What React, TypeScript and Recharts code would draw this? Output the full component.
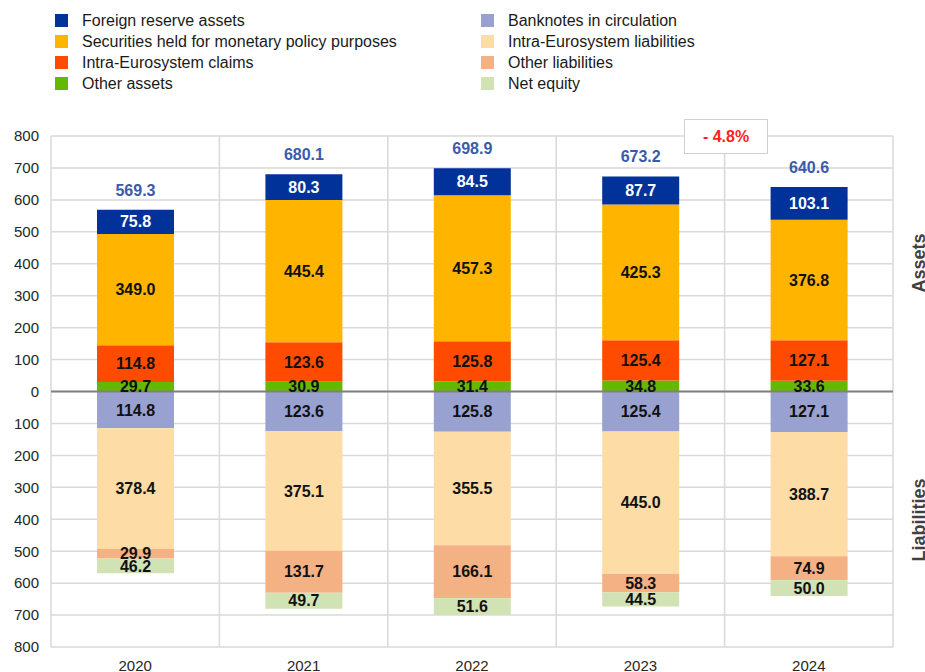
import { Bar, BarChart, CartesianGrid, LabelList, ReferenceLine, XAxis, YAxis } from "recharts";

const years = ["2020", "2021", "2022", "2023", "2024"];

// assets (stacked upwards)
const otherAssets = [29.7, 30.9, 31.4, 34.8, 33.6];
const intraClaims = [114.8, 123.6, 125.8, 125.4, 127.1];
const securities = [349.0, 445.4, 457.3, 425.3, 376.8];
const foreignReserves = [75.8, 80.3, 84.5, 87.7, 103.1];
const totals = [569.3, 680.1, 698.9, 673.2, 640.6];

// liabilities (stacked downwards)
const banknotes = [114.8, 123.6, 125.8, 125.4, 127.1];
const intraLiabilities = [378.4, 375.1, 355.5, 445.0, 388.7];
const otherLiabilities = [29.9, 131.7, 166.1, 58.3, 74.9];
const netEquity = [46.2, 49.7, 51.6, 44.5, 50.0];

const yTicks = [-800, -700, -600, -500, -400, -300, -200, -100, 0, 100, 200, 300, 400, 500, 600, 700, 800];

const changeLabel = "- 4.8%";

const data = years.map((year, i) => ({
  year,
  otherAssets: otherAssets[i],
  intraClaims: intraClaims[i],
  securities: securities[i],
  foreignReserves: foreignReserves[i],
  total: totals[i],
  banknotes: -banknotes[i],
  intraLiabilities: -intraLiabilities[i],
  otherLiabilities: -otherLiabilities[i],
  netEquity: -netEquity[i],
}));

const legendLeft = [
  { name: "Foreign reserve assets", color: "#003299" },
  { name: "Securities held for monetary policy purposes", color: "#ffb400" },
  { name: "Intra-Eurosystem claims", color: "#ff4b00" },
  { name: "Other assets", color: "#65b800" },
];
const legendRight = [
  { name: "Banknotes in circulation", color: "#98a1d0" },
  { name: "Intra-Eurosystem liabilities", color: "#fddca5" },
  { name: "Other liabilities", color: "#f4b183" },
  { name: "Net equity", color: "#d1e2b4" },
];

const font = "'Liberation Sans', Arial, sans-serif";

const fmt = (v: any) => Math.abs(Number(v)).toFixed(1);
const labelStyle = { fontSize: 16, fontWeight: 700, fontFamily: font };

function LegendColumn({ items, left }: { items: { name: string; color: string }[]; left: number }) {
  return (
    <div style={{ position: "absolute", left, top: 10 }}>
      {items.map((it) => (
        <div key={it.name} style={{ display: "flex", alignItems: "center", height: 21, whiteSpace: "nowrap" }}>
          <span style={{ width: 13, height: 13, background: it.color, display: "inline-block", marginRight: 14, flex: "none" }} />
          <span style={{ fontFamily: font, fontSize: 16, color: "#1a1a1a" }}>{it.name}</span>
        </div>
      ))}
    </div>
  );
}

export default function App() {
  return (
    <div style={{ position: "absolute", left: 0, top: 0, width: 925, height: 672, background: "#fff", overflow: "hidden" }}>
      <LegendColumn items={legendLeft} left={55} />
      <LegendColumn items={legendRight} left={481} />
      <BarChart
        width={925}
        height={672}
        data={data}
        stackOffset="sign"
        barSize={77}
        margin={{ top: 136, right: 32, bottom: 0, left: 0 }}
      >
        <CartesianGrid
          stroke="#d9d9d9"
          strokeWidth={1.5}
          verticalCoordinatesGenerator={({ offset }: any) =>
            [0, 1, 2, 3, 4, 5].map((i) => offset.left + (i * offset.width) / 5)
          }
        />
        <XAxis
          dataKey="year"
          axisLine={false}
          tickLine={false}
          height={25}
          tickMargin={7}
          tick={{ fontSize: 15, fill: "#262626", fontFamily: font }}
        />
        <YAxis
          domain={[-800, 800]}
          ticks={yTicks}
          width={51}
          axisLine={false}
          tickLine={false}
          tickMargin={6}
          tickFormatter={(v: number) => String(Math.abs(v))}
          tick={{ fontSize: 15, fill: "#262626", fontFamily: font }}
          interval={0}
        />
        <Bar dataKey="otherAssets" stackId="a" fill="#65b800" isAnimationActive={false}>
          <LabelList dataKey="otherAssets" position="center" formatter={fmt} fill="#111" style={labelStyle} />
        </Bar>
        <Bar dataKey="intraClaims" stackId="a" fill="#ff4b00" isAnimationActive={false}>
          <LabelList dataKey="intraClaims" position="center" formatter={fmt} fill="#111" style={labelStyle} />
        </Bar>
        <Bar dataKey="securities" stackId="a" fill="#ffb400" isAnimationActive={false}>
          <LabelList dataKey="securities" position="center" formatter={fmt} fill="#111" style={labelStyle} />
        </Bar>
        <Bar dataKey="foreignReserves" stackId="a" fill="#003299" isAnimationActive={false}>
          <LabelList dataKey="foreignReserves" position="center" formatter={fmt} fill="#fff" style={labelStyle} />
          <LabelList dataKey="total" position="top" offset={14} formatter={fmt} fill="#3a5bab" style={labelStyle} />
        </Bar>
        <Bar dataKey="banknotes" stackId="a" fill="#98a1d0" isAnimationActive={false}>
          <LabelList dataKey="banknotes" position="center" formatter={fmt} fill="#111" style={labelStyle} />
        </Bar>
        <Bar dataKey="intraLiabilities" stackId="a" fill="#fddca5" isAnimationActive={false}>
          <LabelList dataKey="intraLiabilities" position="center" formatter={fmt} fill="#111" style={labelStyle} />
        </Bar>
        <Bar dataKey="otherLiabilities" stackId="a" fill="#f4b183" isAnimationActive={false}>
          <LabelList dataKey="otherLiabilities" position="center" formatter={fmt} fill="#111" style={labelStyle} />
        </Bar>
        <Bar dataKey="netEquity" stackId="a" fill="#d1e2b4" isAnimationActive={false}>
          <LabelList dataKey="netEquity" position="center" formatter={fmt} fill="#111" style={labelStyle} />
        </Bar>
        <ReferenceLine y={0} stroke="#808080" strokeWidth={2} />
      </BarChart>
      <div
        style={{
          position: "absolute",
          left: 684,
          top: 119,
          width: 82,
          height: 33,
          border: "1px solid #d0d0d0",
          background: "#fff",
          display: "flex",
          alignItems: "center",
          justifyContent: "center",
          fontFamily: font,
          fontWeight: 700,
          fontSize: 16,
          color: "#ff1f1f",
        }}
      >
        {changeLabel}
      </div>
      <div
        style={{
          position: "absolute",
          left: 919,
          top: 263,
          transform: "translate(-50%, -50%) rotate(-90deg)",
          fontFamily: font,
          fontWeight: 700,
          fontSize: 18,
          color: "#404040",
          whiteSpace: "nowrap",
        }}
      >
        Assets
      </div>
      <div
        style={{
          position: "absolute",
          left: 919,
          top: 520,
          transform: "translate(-50%, -50%) rotate(-90deg)",
          fontFamily: font,
          fontWeight: 700,
          fontSize: 18,
          color: "#404040",
          whiteSpace: "nowrap",
        }}
      >
        Liabilities
      </div>
    </div>
  );
}
